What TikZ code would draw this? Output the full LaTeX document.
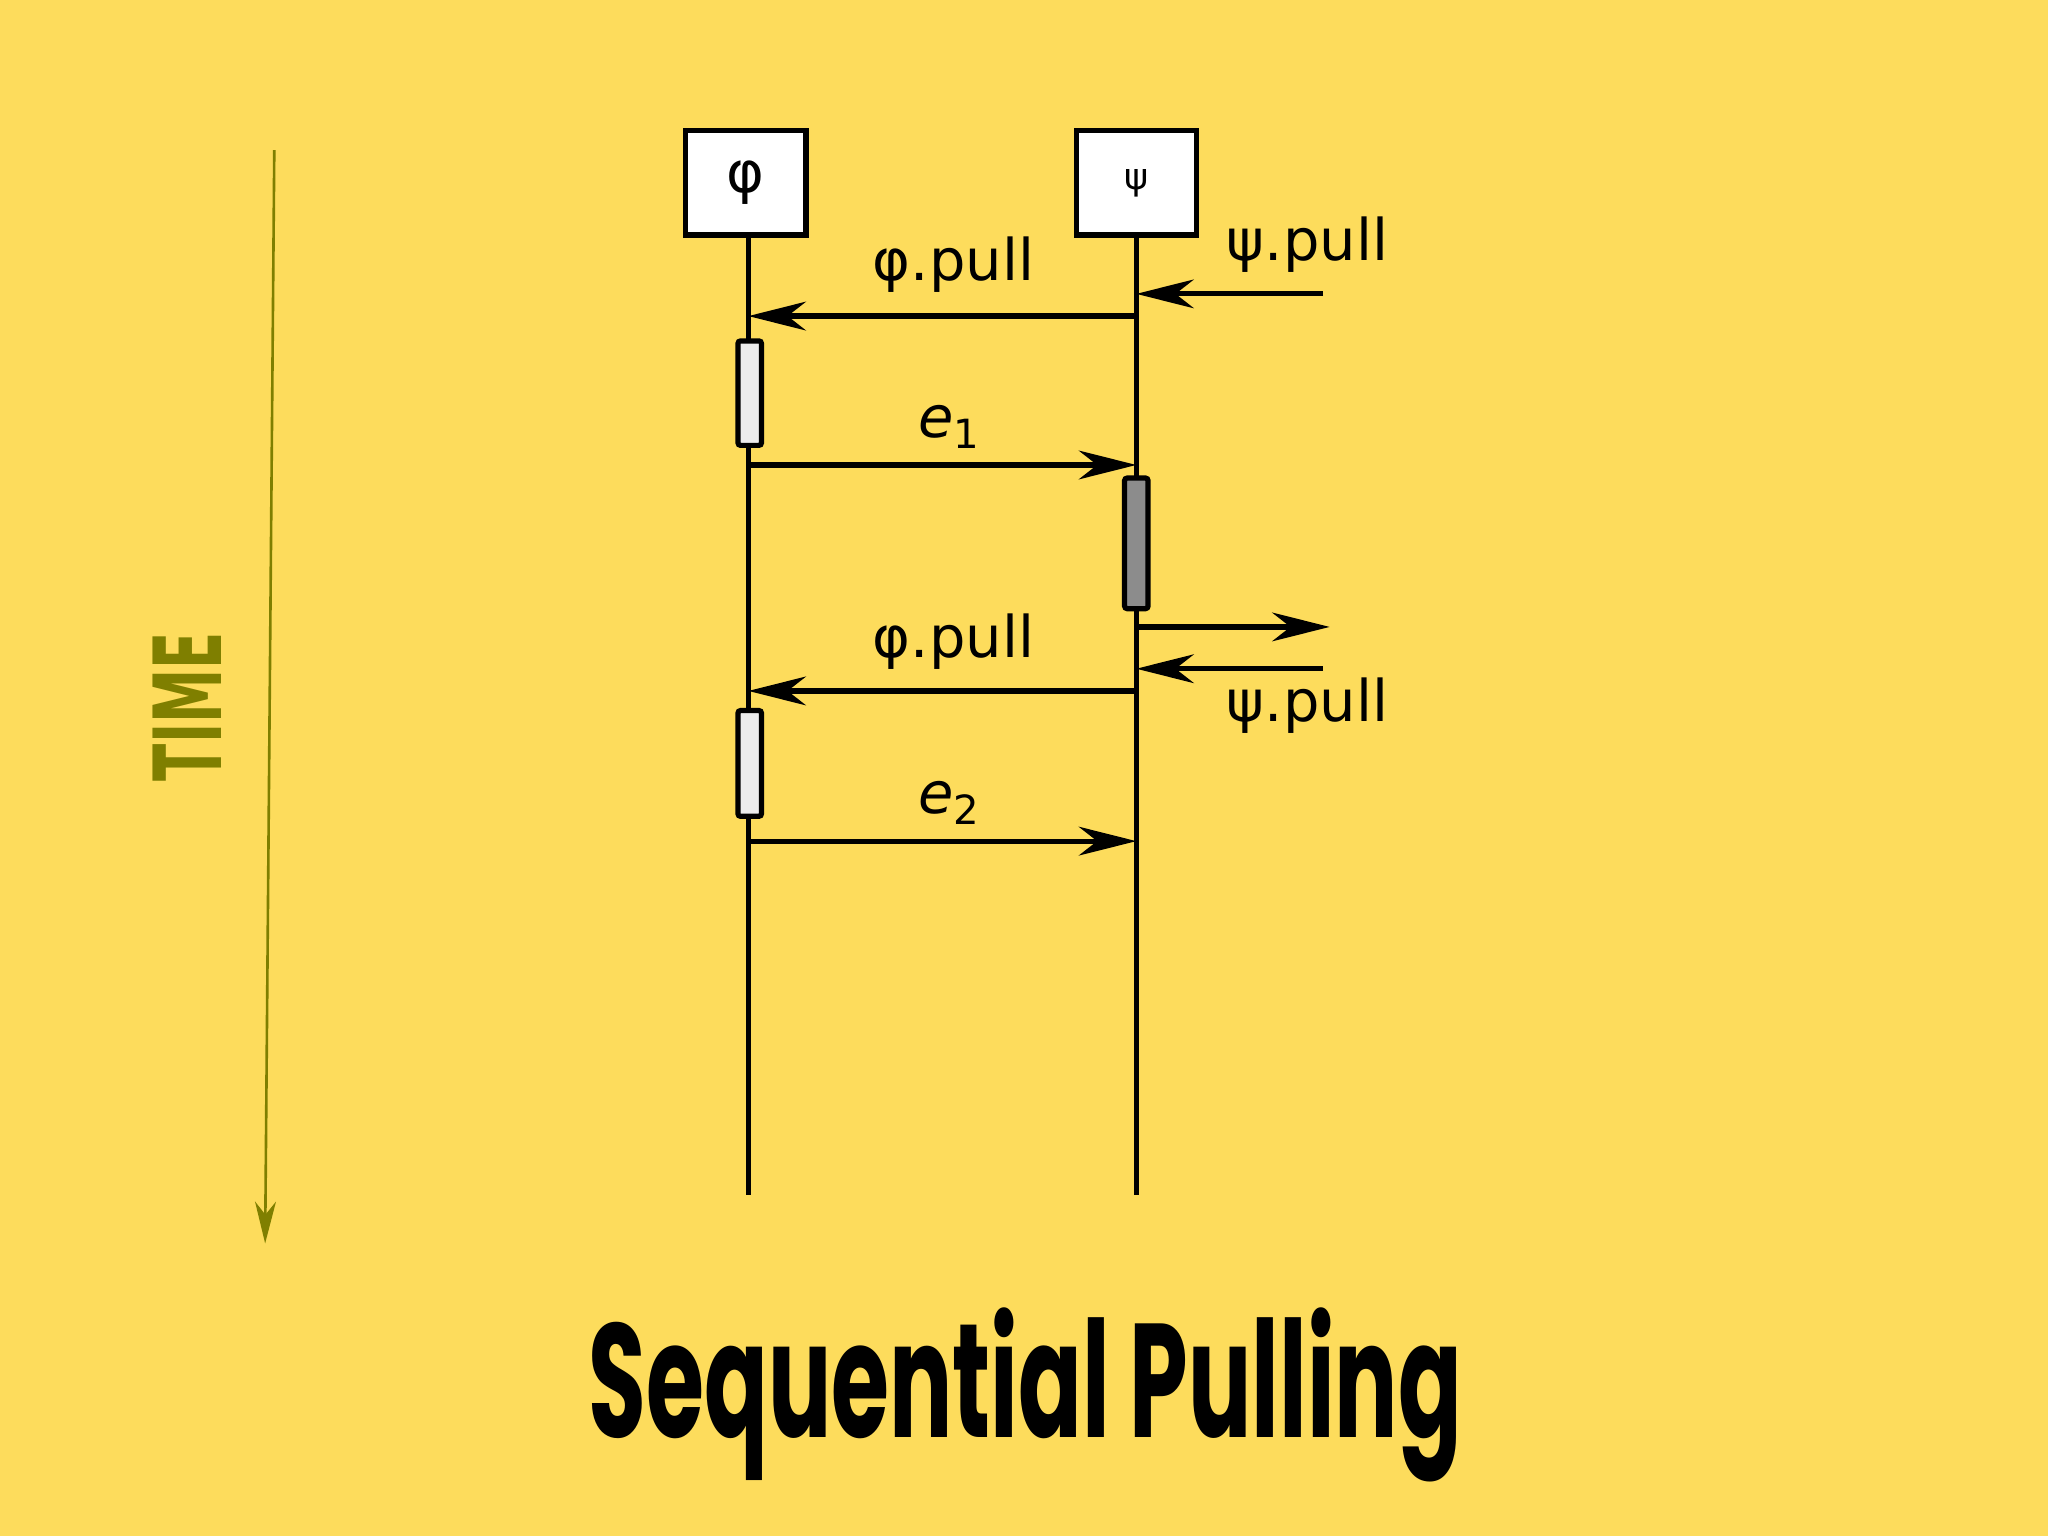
\documentclass[tikz,border=0pt]{standalone}
\usepackage{fontspec}
\setmainfont{DejaVu Sans}
\newfontfamily\titlefont{Poppins}
\usetikzlibrary{arrows.meta}
\definecolor{bg}{HTML}{FDDC5C}
\definecolor{olivet}{HTML}{7F7F00}
\tikzset{
  obj/.style={draw, line width=2pt, fill=white, minimum width=46pt, minimum height=40pt, font=\fontsize{22}{24}\selectfont},
  life/.style={line width=2pt},
  msg/.style={line width=2pt, -{Stealth[length=22pt,width=11pt,inset=7pt]}},
  act/.style={draw, line width=2pt, rounded corners=1pt},
  lbl/.style={font=\fontsize{22}{24}\selectfont},
}
\begin{document}
\begin{tikzpicture}[x=0.5pt,y=-0.5pt]
\fill[bg] (0,0) rectangle (1568,1176);
\useasboundingbox (0,0) rectangle (1568,1176);
\node[obj] (phi) at (571,140) {φ};
\node[obj] (psi) at (870,140) {\fontsize{14}{16}\selectfont ψ};
\coordinate (pb) at (573,915); \coordinate (sb) at (870,915);
\draw[life] (573,180) -- (pb);
\draw[life] (870,180) -- (sb);
\coordinate (a1) at (870,242); \coordinate (a2) at (573,242);
\draw[msg] (a1) -- (a2);
\node[lbl] at (730,203) {φ.pull};
\coordinate (i1) at (1013,225); \coordinate (i2) at (870,225);
\draw[msg] (i1) -- (i2);
\node[lbl] at (1001,187) {ψ.pull};
\draw[act, fill=gray!15] (565,261) rectangle (583,341);
\coordinate (e1a) at (573,356); \coordinate (e1b) at (870,356);
\draw[msg] (e1a) -- (e1b);
\node[lbl] at (727,327) {\textit{e}\textsubscript{1}};
\draw[act, fill=gray!90] (861,366) rectangle (879,466);
\coordinate (o1) at (870,480); \coordinate (o2) at (1018,480);
\draw[msg] (o1) -- (o2);
\coordinate (j1) at (1013,512); \coordinate (j2) at (870,512);
\draw[msg] (j1) -- (j2);
\node[lbl] at (1001,540) {ψ.pull};
\coordinate (b1) at (870,529); \coordinate (b2) at (573,529);
\draw[msg] (b1) -- (b2);
\node[lbl] at (730,491) {φ.pull};
\draw[act, fill=gray!15] (565,544) rectangle (583,625);
\coordinate (e2a) at (573,644); \coordinate (e2b) at (870,644);
\draw[msg] (e2a) -- (e2b);
\node[lbl] at (727,615) {\textit{e}\textsubscript{2}};
\coordinate (t1) at (210,115); \coordinate (t2) at (203,952);
\draw[olivet, line width=1pt, -{Stealth[length=16pt,width=8pt,inset=5pt]}] (t1) -- (t2);
\node[olivet, rotate=90, font=\fontsize{36}{40}\selectfont\bfseries] (time) at (143,541) {\scalebox{0.58}[1]{TIME}};
\node[font=\titlefont\fontsize{62}{70}\selectfont\bfseries] (title) at (785,1068) {\scalebox{0.58}[1]{Sequential Pulling}};
\end{tikzpicture}
\end{document}
